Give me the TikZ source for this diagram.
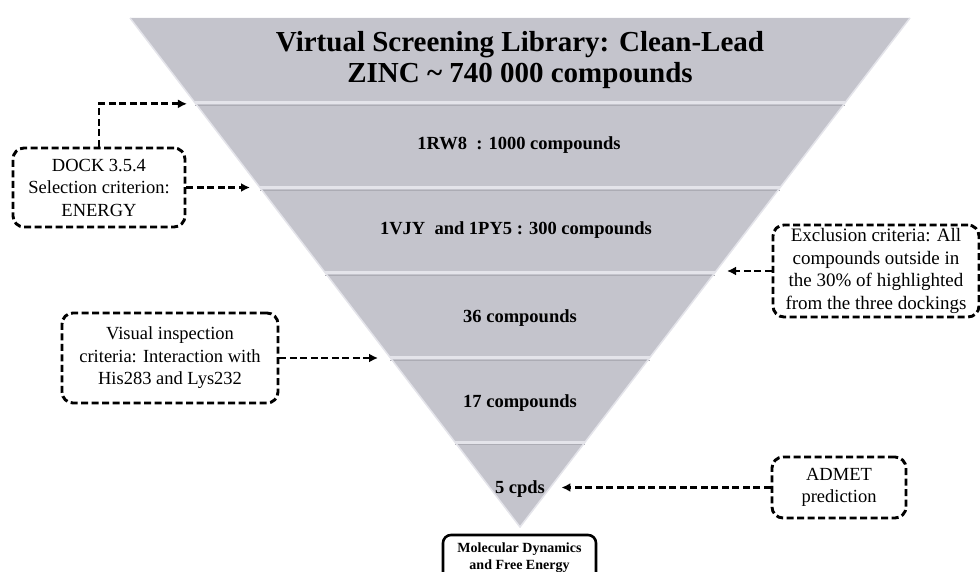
\documentclass[tikz,border=0pt]{standalone}
\usepackage{fontspec}
\setmainfont{Liberation Serif}
\usetikzlibrary{arrows.meta,calc,positioning}
\definecolor{bandgray}{RGB}{196,196,204}
\definecolor{bandlight}{RGB}{228,228,234}
\definecolor{banddark}{RGB}{172,172,180}
\tikzset{
    critbox/.style={draw=black, dash pattern=on 7pt off 3.5pt, line width=2.9pt,
        rounded corners=11pt, align=center, inner sep=2pt,
        font=\fontsize{18.5}{22.5}\selectfont},
    mdbox/.style={draw=black, line width=2.6pt, rounded corners=8pt, align=center,
        font=\bfseries\fontsize{14}{17}\selectfont},
    dasharrow/.style={draw=black, line width=2.9pt, dash pattern=on 7pt off 3.5pt,
        -{Latex[length=9pt,width=9pt]}},
    steplabel/.style={font=\bfseries\fontsize{18.5}{22}\selectfont},
    sepline/.style={draw=bandlight, line width=3pt},
    sepshade/.style={draw=banddark, line width=1pt},
}

\begin{document}
\begin{tikzpicture}[x=1pt, y=-1pt]
\useasboundingbox (0,0) rectangle (980,572);
\clip (0,0) rectangle (980,572);
% funnel
\coordinate (tl) at (130,18);
\coordinate (tr) at (910,18);
\coordinate (apex) at (520,527);
\fill[bandgray] (tl) -- (tr) -- (apex) -- cycle;
\foreach \i in {1,...,5}{
    \draw[sepshade] ($(tl)!\i/6!(apex)+(0,2.8)$) -- ($(tr)!\i/6!(apex)+(0,2.8)$);
    \draw[sepline] ($(tl)!\i/6!(apex)$) -- ($(tr)!\i/6!(apex)$);
}
\draw[bandlight, line width=1.5pt] (tl) -- (apex) -- (tr);
% arrow ends beside the funnel
\coordinate (s1) at ($(tl)!1/6!(apex)+(-8,1)$);
\coordinate (s2) at ($(tl)!2/6!(apex)+(-10,0)$);
\coordinate (s3) at ($(tr)!3/6!(apex)+(12,0)$);
\coordinate (s4) at ($(tl)!4/6!(apex)+(-12,0)$);
% levels
\node[font=\bfseries\fontsize{29}{31}\selectfont, align=center] (title) at (520,60)
    {Virtual Screening Library: Clean-Lead\\ZINC \textasciitilde{} 740 000 compounds};
\node[steplabel] (rw) at (519,145) {1RW8\ \ : 1000 compounds};
\node[steplabel] (vjy) at (516,230) {1VJY\ \ and 1PY5 : 300 compounds};
\node[steplabel] (c36) at (520,318) {36 compounds};
\node[steplabel] (c17) at (520,403) {17 compounds};
\node[steplabel] (cpds) at (520,489) {5 cpds};
% criteria
\node[critbox, minimum width=172pt, minimum height=79pt] (dock) at (99,187.5)
    {DOCK 3.5.4\\Selection criterion:\\ENERGY};
\node[critbox, minimum width=216pt, minimum height=90pt] (visual) at (170,358)
    {Visual inspection\\criteria: Interaction with\\His283 and Lys232};
\node[critbox, minimum width=206pt, minimum height=92pt,
    font=\fontsize{19}{22.5}\selectfont] (excl) at (876,271)
    {Exclusion criteria: All\\compounds outside in\\the 30\% of highlighted\\from the three dockings};
\node[critbox, minimum width=134pt, minimum height=61pt] (admet) at (839,487.5)
    {ADMET\\prediction};
\node[mdbox, minimum width=153pt, minimum height=45pt] (md) at (519.5,557.5)
    {Molecular Dynamics\\and Free Energy};
% connectors
\draw[dasharrow] (dock.north) |- (s1);
\draw[dasharrow] (dock) -- (dock -| s2);
\draw[dasharrow] (visual) -- (visual -| s4);
\draw[dasharrow] (excl) -- (excl -| s3);
\draw[dasharrow, shorten >=13pt] (admet) -- (admet -| cpds.east);
\end{tikzpicture}
\end{document}
